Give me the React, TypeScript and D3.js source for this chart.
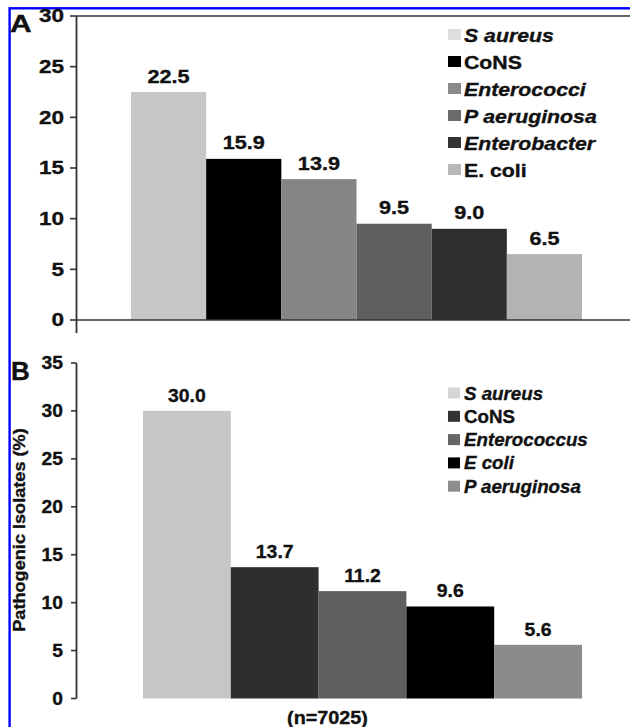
import React from "react";
import * as d3 from "d3";

const aCategories = ["S aureus", "CoNS", "Enterococci", "P aeruginosa", "Enterobacter", "E. coli"];
const aValues = [22.5, 15.9, 13.9, 9.5, 9.0, 6.5];
const aItalic = [true, false, true, true, true, false];
const aColors = ["#c6c6c6", "#000000", "#858585", "#5e5e5e", "#2f2f2f", "#b3b3b3"];
const aLegendColors = ["#dedede", "#000000", "#8a8a8a", "#6a6a6a", "#333333", "#b8b8b8"];
const aTicks = [0, 5, 10, 15, 20, 25, 30];

const bCategories = ["S aureus", "CoNS", "Enterococcus", "E coli", "P aeruginosa"];
const bValues = [30.0, 13.7, 11.2, 9.6, 5.6];
const bItalic = [true, false, true, true, true];
const bColors = ["#c6c6c6", "#2e2e2e", "#5f5f5f", "#000000", "#8a8a8a"];
const bLegendColors = ["#d6d6d6", "#333333", "#666666", "#000000", "#8e8e8e"];
const bTicks = [0, 5, 10, 15, 20, 25, 30, 35];

const FONT = "Arial, 'Liberation Sans', sans-serif";

function T({ x, y, sx = 1, anchor = "start", size = 18, italic = false, children, rotate = 0 }: any) {
  return (
    <text
      transform={`translate(${x},${y}) rotate(${rotate}) scale(${sx},1)`}
      textAnchor={anchor}
      fontSize={size}
      fontWeight="bold"
      fontStyle={italic ? "italic" : "normal"}
      fontFamily={FONT}
      fill="#111"
      stroke="#111"
      strokeWidth={0.35}
    >
      {children}
    </text>
  );
}

export default function App() {
  const axisX = 76.5;

  // Panel A
  const xA = d3.scaleBand<string>().domain(aCategories).range([131, 582]).paddingInner(0).paddingOuter(0);
  const yA = d3.scaleLinear().domain([0, 30]).range([320, 16]);

  // Panel B
  const xB = d3.scaleBand<string>().domain(bCategories).range([143, 582]).paddingInner(0).paddingOuter(0);
  const yB = d3.scaleLinear().domain([0, 35]).range([698.5, 363]);

  return (
    <svg
      width={630}
      height={727}
      style={{ position: "absolute", left: 0, top: 0, background: "#fff" }}
    >
      <rect x={0} y={0} width={630} height={727} fill="#fff" />
      {/* blue frame */}
      <rect x={9.6} y={8.3} width={700} height={800} fill="none" stroke="#0000ff" strokeWidth={2.4} />

      {/* ===== Panel A ===== */}
      {aCategories.map((c, i) => (
        <rect
          key={c}
          x={xA(c)}
          y={yA(aValues[i])}
          width={xA.bandwidth()}
          height={yA(0) - yA(aValues[i])}
          fill={aColors[i]}
        />
      ))}
      {aCategories.map((c, i) => (
        <T key={c} x={(xA(c) as number) + xA.bandwidth() / 2} y={yA(aValues[i]) - 9.5} sx={1.17} anchor="middle" size={18.5}>
          {aValues[i].toFixed(1)}
        </T>
      ))}
      {/* frame lines */}
      <line x1={axisX} x2={630} y1={yA(30)} y2={yA(30)} stroke="#333" strokeWidth={1.6} />
      <line x1={axisX} x2={630} y1={yA(0)} y2={yA(0)} stroke="#333" strokeWidth={1.6} />
      <line x1={axisX} x2={axisX} y1={yA(30)} y2={333} stroke="#333" strokeWidth={1.8} />
      {aTicks.map((t) => (
        <g key={t}>
          <line x1={70} x2={axisX} y1={yA(t)} y2={yA(t)} stroke="#333" strokeWidth={1.6} />
          <T x={64} y={yA(t) + 6.3} sx={1.25} anchor="end" size={18}>
            {t}
          </T>
        </g>
      ))}
      <T x={10} y={32} sx={1.25} size={24}>A</T>
      {/* legend A */}
      {aCategories.map((c, i) => (
        <g key={c}>
          <rect x={448} y={29 + i * 27} width={13} height={11} fill={aLegendColors[i]} />
          <T x={464} y={41.5 + i * 27} sx={1.15} size={18.5} italic={aItalic[i]}>
            {c}
          </T>
        </g>
      ))}

      {/* ===== Panel B ===== */}
      {bCategories.map((c, i) => (
        <rect
          key={c}
          x={xB(c)}
          y={yB(bValues[i])}
          width={xB.bandwidth()}
          height={yB(0) - yB(bValues[i])}
          fill={bColors[i]}
        />
      ))}
      {bCategories.map((c, i) => (
        <T key={c} x={(xB(c) as number) + xB.bandwidth() / 2} y={yB(bValues[i]) - 9} sx={1.05} anchor="middle" size={18.5}>
          {bValues[i].toFixed(1)}
        </T>
      ))}
      <line x1={axisX} x2={axisX} y1={yB(35)} y2={yB(0)} stroke="#333" strokeWidth={1.8} />
      {bTicks.map((t) => (
        <g key={t}>
          <line x1={71} x2={axisX} y1={yB(t)} y2={yB(t)} stroke="#333" strokeWidth={1.6} />
          <T x={63} y={yB(t) + 6} sx={1.1} anchor="end" size={17.5}>
            {t}
          </T>
        </g>
      ))}
      <T x={11} y={380} sx={1.0} size={26}>B</T>
      <T x={25} y={530} sx={1.1} anchor="middle" size={16.5} rotate={-90}>
        Pathogenic Isolates (%)
      </T>
      <T x={327.5} y={724} sx={1.1} anchor="middle" size={18}>
        (n=7025)
      </T>
      {/* legend B */}
      {bCategories.map((c, i) => (
        <g key={c}>
          <rect x={448} y={387.5 + i * 23.3} width={12} height={11} fill={bLegendColors[i]} />
          <T x={464} y={399.5 + i * 23.3} sx={1.04} size={18} italic={bItalic[i]}>
            {c}
          </T>
        </g>
      ))}
    </svg>
  );
}
